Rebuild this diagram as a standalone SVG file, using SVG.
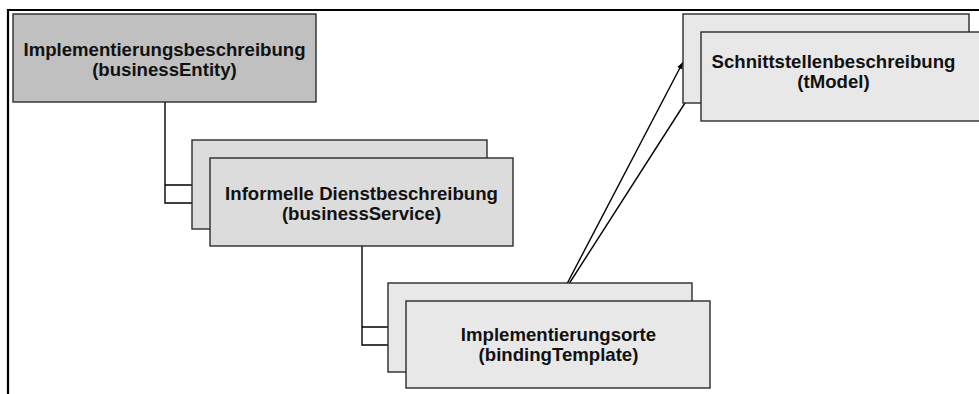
<svg xmlns="http://www.w3.org/2000/svg" width="979" height="394" viewBox="0 0 979 394">
  <style>
    .box { stroke: #2b2b2b; stroke-width: 1.4; }
    .dark { fill: #c0c0c0; }
    .mid { fill: #dcdcdc; }
    .light { fill: #e8e8e8; }
    .lbl { font-family: "Liberation Sans", Arial, sans-serif; font-weight: bold; font-size: 18.6px; fill: #111; text-anchor: middle; }
    .conn { stroke: #000; stroke-width: 1.4; fill: none; }
    .frame { stroke: #000; stroke-width: 2.2; fill: none; }
  </style>
  <defs>
    <marker id="arrow" viewBox="0 0 10 10" refX="10" refY="5" markerWidth="7" markerHeight="7" orient="auto" markerUnits="userSpaceOnUse">
      <path d="M0,1 L10,5 L0,9 z" fill="#000"/>
    </marker>
  </defs>

  <!-- page frame -->
  <path class="frame" d="M8,394 V10 H979"/>

  <!-- connectors -->
  <g id="connectors">
    <path class="conn" d="M165,102 V203 H210 M165,185 H192"/>
    <path class="conn" d="M362,246 V345 H406 M362,327 H388"/>
    <line class="conn" x1="558" y1="301" x2="683" y2="62" marker-end="url(#arrow)"/>
    <line class="conn" x1="558" y1="301" x2="701" y2="78" marker-end="url(#arrow)"/>
  </g>

  <g id="businessEntity">
    <rect class="box dark" x="13" y="14" width="303" height="88"/>
    <text class="lbl" x="164.5" y="56">Implementierungsbeschreibung</text>
    <text class="lbl" x="164.5" y="76">(businessEntity)</text>
  </g>

  <g id="businessService">
    <rect class="box mid" x="192" y="140" width="295" height="89"/>
    <rect class="box mid" x="210" y="158" width="303" height="88"/>
    <text class="lbl" x="361.5" y="200">Informelle Dienstbeschreibung</text>
    <text class="lbl" x="361.5" y="220">(businessService)</text>
  </g>

  <g id="bindingTemplate">
    <rect class="box light" x="388" y="283" width="304" height="89"/>
    <rect class="box light" x="406" y="301" width="304" height="87"/>
    <text class="lbl" x="558.5" y="341">Implementierungsorte</text>
    <text class="lbl" x="558.5" y="361">(bindingTemplate)</text>
  </g>

  <g id="tModel">
    <rect class="box light" x="683" y="14" width="286" height="89"/>
    <rect class="box light" x="701" y="32" width="290" height="89"/>
    <text class="lbl" x="833.5" y="68">Schnittstellenbeschreibung</text>
    <text class="lbl" x="833.5" y="88">(tModel)</text>
  </g>
</svg>
